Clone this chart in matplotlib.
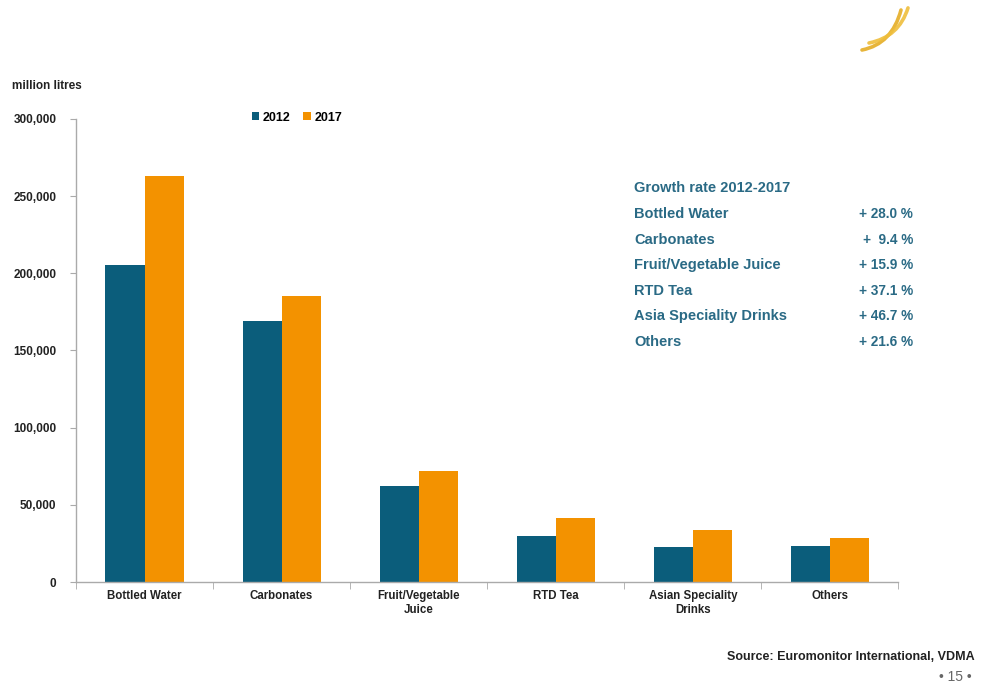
import numpy as np
import matplotlib.pyplot as plt
from matplotlib.path import Path
from matplotlib.patches import PathPatch

plt.rcParams['font.family'] = ['Liberation Sans', 'DejaVu Sans']

categories = ['Bottled Water', 'Carbonates', 'Fruit/Vegetable\nJuice', 'RTD Tea',
              'Asian Speciality\nDrinks', 'Others']
vol_2012 = [205500, 169000, 62300, 30000, 22700, 23400]
vol_2017 = [263000, 185000, 72000, 41300, 33500, 28500]

growth_names = ['Bottled Water', 'Carbonates', 'Fruit/Vegetable Juice', 'RTD Tea',
                'Asia Speciality Drinks', 'Others']
growth_rates = ['+ 28.0 %', '+  9.4 %', '+ 15.9 %', '+ 37.1 %', '+ 46.7 %', '+ 21.6 %']

teal = '#0b5d7b'
orange = '#f39200'
table_col = '#2a6a85'
dark = '#222222'

fig = plt.figure(figsize=(9.86, 6.86), dpi=100)
ax = fig.add_axes([0.0771, 0.1516, 0.834, 0.675])

x = np.arange(len(categories))
w = 0.285
ax.bar(x - w / 2, vol_2012, w, color=teal, label='2012')
ax.bar(x + w / 2, vol_2017, w, color=orange, label='2017')

ax.set_xlim(-0.5, len(categories) - 0.5)
ax.set_ylim(0, 300000)
ax.set_yticks(np.arange(0, 300001, 50000))
ax.set_yticklabels(['{:,}'.format(v) for v in range(0, 300001, 50000)],
                   fontsize=8.5, fontweight='bold', color=dark)
ax.set_xticks(x)
ax.set_xticklabels(categories, fontsize=8.3, fontweight='bold', color=dark)
ax.set_xticks(np.arange(-0.5, len(categories), 1), minor=True)
ax.tick_params(axis='x', which='major', length=0, pad=6)
ax.tick_params(axis='x', which='minor', length=5, color='#aaaaaa', direction='out')
ax.tick_params(axis='y', length=4, color='#aaaaaa', pad=10)

for s in ['top', 'right']:
    ax.spines[s].set_visible(False)
for s in ['left', 'bottom']:
    ax.spines[s].set_color('#aaaaaa')
    ax.spines[s].set_linewidth(1)

ax.legend(loc='upper left', bbox_to_anchor=(0.2, 1.04), ncol=2, frameon=False,
          handlelength=0.6, handleheight=0.6, handletextpad=0.3, columnspacing=1.0,
          prop={'weight': 'bold', 'size': 9})

fig.text(12 / 986, 1 - 86 / 686, 'million litres', fontsize=8.5, fontweight='bold',
         color=dark, va='center')

# growth table
fig.text(634 / 986, 1 - 188 / 686, 'Growth rate 2012-2017', fontsize=10.5, fontweight='bold',
         color=table_col, va='center')
for i, (nm, gr) in enumerate(zip(growth_names, growth_rates)):
    yy = 1 - (214 + i * 25.6) / 686
    fig.text(634 / 986, yy, nm, fontsize=10.5, fontweight='bold', color=table_col, va='center')
    fig.text(913 / 986, yy, gr, fontsize=9.8, fontweight='bold', color=table_col,
             va='center', ha='right')

fig.text(975 / 986, 1 - 657 / 686, 'Source: Euromonitor International, VDMA', fontsize=9,
         fontweight='bold', color=dark, ha='right', va='center')
fig.text(972 / 986, 1 - 677 / 686, '• 15 •', fontsize=10, color='#666666', ha='right', va='center')

# logo swoosh top right: two parallel arcs
for (dx, dy, c) in [(0, 0, '#e5ad25'), (7, -7, '#efbe3c')]:
    pts = [(862 + dx, 50 + dy), (892 + dx, 44 + dy), (901 + dx, 10 + dy * 0.3)]
    pts = [(px / 986, 1 - py / 686) for px, py in pts]
    path = Path(pts, [Path.MOVETO, Path.CURVE3, Path.CURVE3])
    fig.patches.append(PathPatch(path, transform=fig.transFigure, fill=False,
                                 edgecolor=c, lw=2.6, capstyle='round', alpha=0.9))

fig.savefig('out.png', dpi=100)
